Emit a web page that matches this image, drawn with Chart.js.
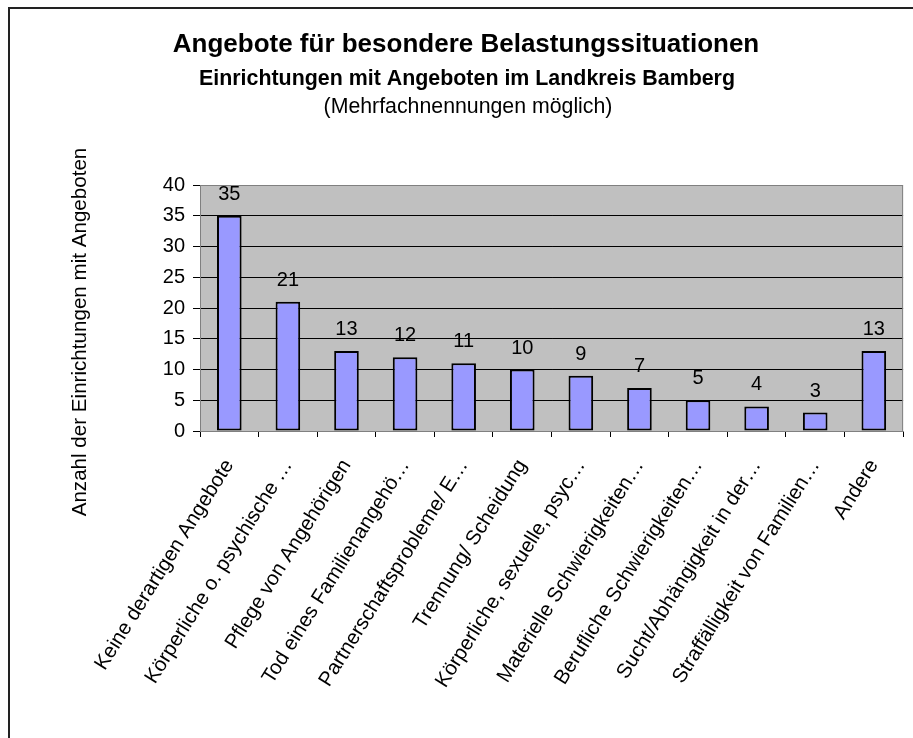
<!DOCTYPE html>
<html lang="de">
<head>
<meta charset="utf-8">
<title>Angebote für besondere Belastungssituationen</title>
<script src="https://cdn.jsdelivr.net/npm/chart.js@4/dist/chart.umd.min.js"></script>
<style>
  html, body { margin: 0; padding: 0; background: #fff; }
  canvas { display: block; }
</style>
</head>
<body>
<canvas id="chart" width="913" height="738"></canvas>
<script>
// --- data ---
const categories = [
    'Keine derartigen Angebote',
    'Körperliche o. psychische …',
    'Pflege von Angehörigen',
    'Tod eines Familienangehö…',
    'Partnerschaftsprobleme/ E…',
    'Trennung/ Scheidung',
    'Körperliche, sexuelle, psyc…',
    'Materielle Schwierigkeiten…',
    'Berufliche Schwierigkeiten…',
    'Sucht/Abhängigkeit in der…',
    'Straffälligkeit von Familien…',
    'Andere'
];
const counts = [35, 21, 13, 12, 11, 10, 9, 7, 5, 4, 3, 13];
const yMin = 0;
const yMax = 40;
const yStep = 5;

const titleLines = [
    'Angebote für besondere Belastungssituationen',
    'Einrichtungen mit Angeboten im Landkreis Bamberg',
    '(Mehrfachnennungen möglich)'
];
const yAxisTitle = 'Anzahl der Einrichtungen mit Angeboten';

const FONT = '"Liberation Sans", Arial, sans-serif';

// frame, headings, plot background and y title
const decorPlugin = {
    id: 'decor',
    beforeDraw(chart) {
        const c = chart.ctx;
        const a = chart.chartArea;
        c.save();
        c.fillStyle = '#C0C0C0';
        c.fillRect(a.left, a.top, a.right - a.left, a.bottom - a.top);
        c.restore();
    },
    beforeDatasetsDraw(chart) {
        const c = chart.ctx;
        const a = chart.chartArea;
        c.save();
        c.strokeStyle = '#808080';
        c.lineWidth = 1;
        c.beginPath();
        c.moveTo(a.left, a.top + 0.5);
        c.lineTo(a.right - 0.5, a.top + 0.5);
        c.lineTo(a.right - 0.5, a.bottom);
        c.stroke();
        c.restore();
    },
    afterDraw(chart) {
        const c = chart.ctx;
        c.save();
        // outer frame (runs off the right and bottom edge)
        c.strokeStyle = '#222';
        c.lineWidth = 2;
        c.beginPath();
        c.moveTo(chart.width, 8);
        c.lineTo(9, 8);
        c.lineTo(9, chart.height);
        c.stroke();

        c.fillStyle = '#000';
        c.textAlign = 'center';
        c.textBaseline = 'alphabetic';
        c.font = 'bold 26px ' + FONT;
        c.fillText(titleLines[0], 466, 52);
        c.font = 'bold 21.4px ' + FONT;
        c.fillText(titleLines[1], 467, 85);
        c.font = '21.3px ' + FONT;
        c.fillText(titleLines[2], 468, 113);

        // y axis title
        c.font = '20.6px ' + FONT;
        c.translate(80, 332);
        c.rotate(-Math.PI / 2);
        c.textBaseline = 'middle';
        c.fillText(yAxisTitle, 0, 0);
        c.restore();
    },
    afterDatasetsDraw(chart) {
        const c = chart.ctx;
        const meta = chart.getDatasetMeta(0);
        c.save();
        c.fillStyle = '#000';
        c.font = '20px ' + FONT;
        c.textAlign = 'center';
        c.textBaseline = 'alphabetic';
        meta.data.forEach((bar, i) => {
            c.fillText(String(counts[i]), bar.x, bar.y - 16);
        });
        c.restore();
    }
};

new Chart(document.getElementById('chart'), {
    type: 'bar',
    data: {
        labels: categories,
        datasets: [{
            data: counts,
            backgroundColor: '#9999FF',
            borderColor: '#000',
            borderWidth: 2,
            borderSkipped: false,
            categoryPercentage: 1,
            barPercentage: 0.42
        }]
    },
    options: {
        responsive: false,
        animation: false,
        events: [],
        layout: { padding: { top: 185, right: 8, left: 0, bottom: 0 } },
        plugins: {
            legend: { display: false },
            tooltip: { enabled: false },
            title: { display: false }
        },
        scales: {
            x: {
                afterFit(scale) { scale.height = 738 - 431; },
                grid: {
                    offset: true,
                    drawOnChartArea: false,
                    tickLength: 6,
                    tickColor: '#000'
                },
                border: { color: '#808080', width: 1 },
                ticks: {
                    autoSkip: false,
                    minRotation: 58,
                    maxRotation: 58,
                    padding: 18,
                    color: '#000',
                    font: { family: FONT, size: 20.5 }
                }
            },
            y: {
                min: yMin,
                max: yMax,
                afterFit(scale) { scale.width = 200; },
                grid: {
                    color: (ctx) => (ctx.tick && ctx.tick.value === yMax ? '#808080' : '#000'),
                    tickColor: '#000',
                    tickLength: 7,
                    lineWidth: 1
                },
                border: { color: '#808080', width: 1 },
                ticks: {
                    stepSize: yStep,
                    padding: 8,
                    color: '#000',
                    font: { family: FONT, size: 20 }
                }
            }
        }
    },
    plugins: [decorPlugin]
});
</script>
</body>
</html>
